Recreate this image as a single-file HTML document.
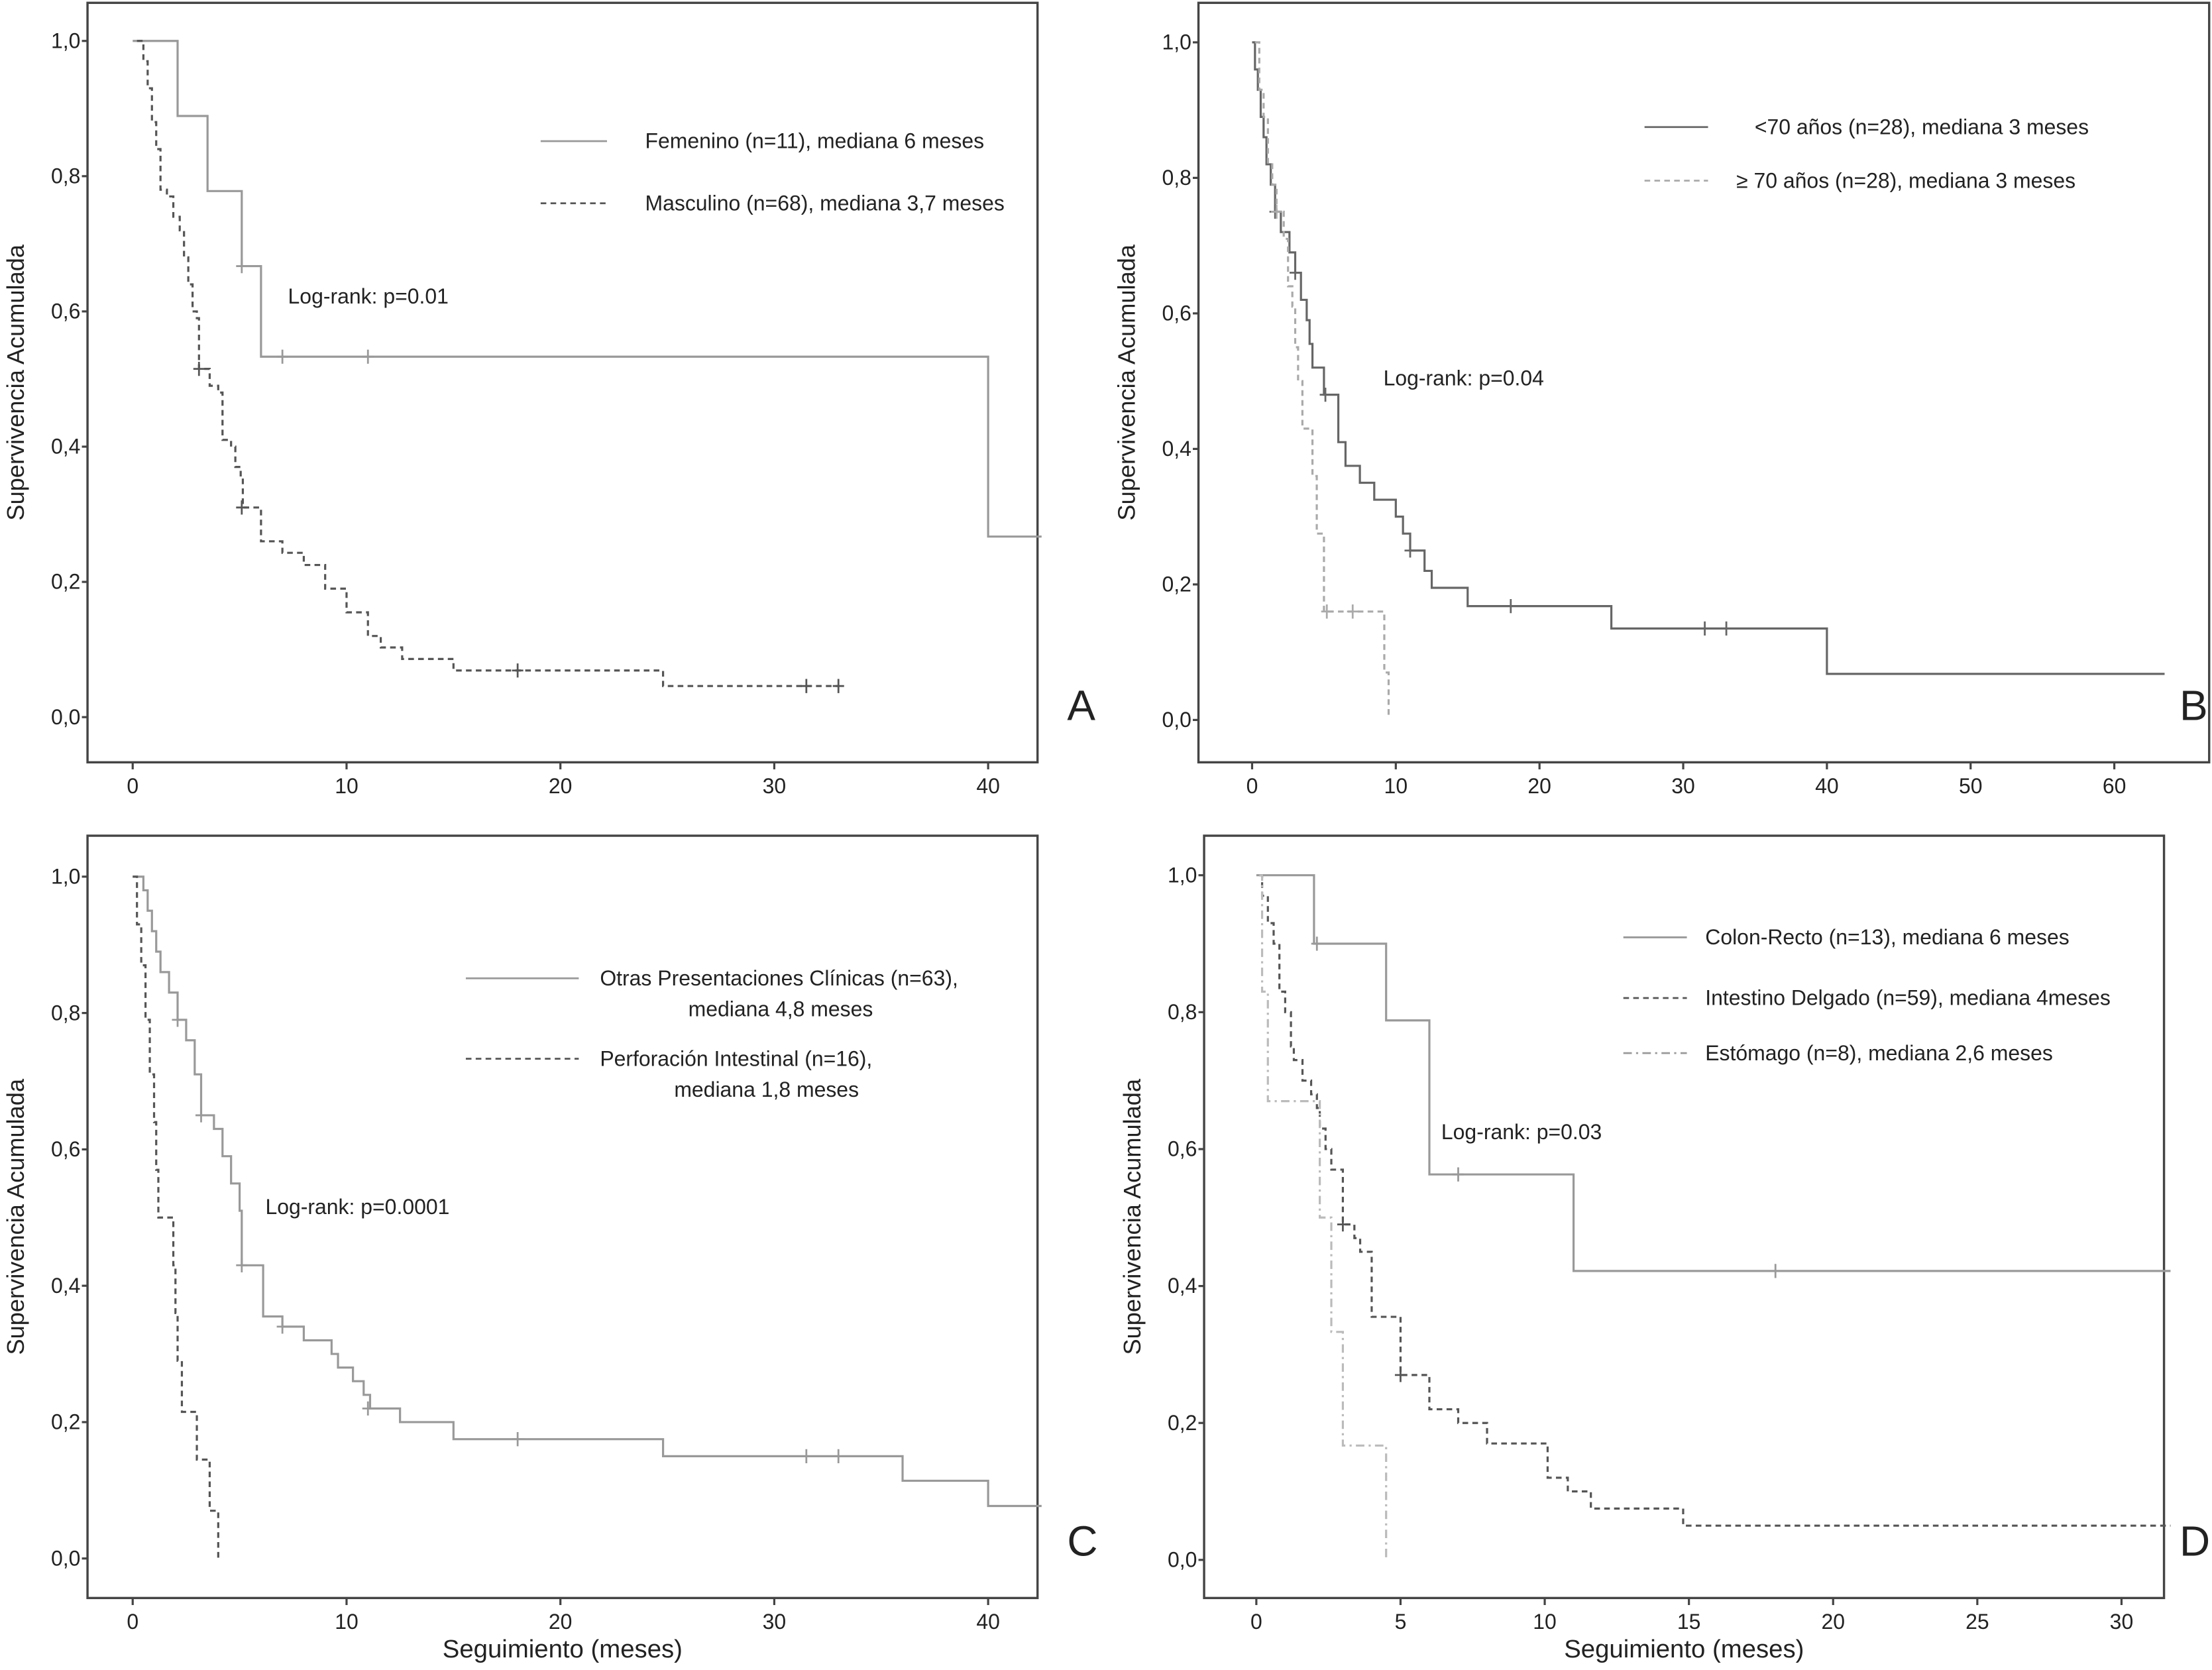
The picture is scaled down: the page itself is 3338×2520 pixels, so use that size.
<!DOCTYPE html>
<html><head><meta charset="utf-8"><style>
html,body{margin:0;padding:0;background:#fff}
svg{display:block}
text{font-family:"Liberation Sans",sans-serif;fill:#222}
</style></head><body>
<svg id="fig" width="3338" height="2520" viewBox="0 0 1567 1183" preserveAspectRatio="none" xmlns="http://www.w3.org/2000/svg"></svg>
<script>
// Panel A
const aFemT=[0,2.1,3.5,5.1,6,40,42.5];
const aFemS=[1,0.889,0.778,0.667,0.533,0.267,0.267];
const aFemC=[[5.1,0.667],[7,0.533],[11,0.533]];
const aMasT=[0.2,0.5,0.7,0.9,1.1,1.3,1.6,1.9,2.2,2.4,2.6,2.8,3.0,3.1,3.6,4.0,4.2,4.6,4.8,5.05,5.15,6,7,8,9,10,11,11.6,12.6,15,24.8,33];
const aMasS=[1,0.97,0.93,0.88,0.84,0.78,0.77,0.74,0.72,0.68,0.64,0.60,0.59,0.515,0.49,0.48,0.41,0.40,0.37,0.355,0.31,0.26,0.243,0.225,0.19,0.155,0.12,0.103,0.086,0.069,0.046,0.046];
const aMasC=[[3.1,0.515],[5.1,0.31],[18,0.069],[31.5,0.046],[33,0.046]];
// Panel B
const bYT=[0,0.2,0.4,0.6,0.8,1,1.3,1.6,2,2.6,3.0,3.4,3.8,4.0,4.2,5,6,6.5,7.5,8.5,10,10.5,11,12,12.5,15,25,40,63.5];
const bYS=[1,0.96,0.93,0.89,0.86,0.82,0.79,0.75,0.72,0.69,0.66,0.62,0.59,0.555,0.52,0.48,0.41,0.375,0.35,0.325,0.30,0.275,0.25,0.22,0.195,0.168,0.135,0.068,0.068];
const bYC=[[1.6,0.75],[3.0,0.66],[5.1,0.48],[11,0.25],[18,0.168],[31.5,0.135],[33,0.135]];
const bOT=[0.2,0.5,0.8,1.1,1.4,1.7,2.2,2.5,2.8,3.0,3.2,3.5,4.2,4.5,5,9.2,9.5];
const bOS=[1,0.93,0.89,0.82,0.79,0.75,0.71,0.64,0.61,0.55,0.50,0.43,0.36,0.275,0.16,0.07,0.005];
const bOC=[[1.7,0.75],[5.2,0.16],[7,0.16]];
// Panel C
const cOT=[0,0.5,0.7,0.9,1.1,1.3,1.7,2.1,2.5,2.9,3.2,3.8,4.2,4.6,5,5.1,6.1,7,8,9.3,9.6,10.3,10.8,11.1,12.5,15,24.8,36,40,42.5];
const cOS=[1,0.98,0.95,0.92,0.89,0.86,0.83,0.79,0.76,0.71,0.65,0.63,0.59,0.55,0.51,0.43,0.355,0.34,0.32,0.30,0.28,0.26,0.24,0.22,0.20,0.175,0.15,0.114,0.077,0.077];
const cOC=[[2.1,0.79],[3.2,0.65],[5.1,0.43],[7,0.34],[11,0.22],[18,0.175],[31.5,0.15],[33,0.15]];
const cPT=[0,0.2,0.4,0.6,0.8,1.0,1.1,1.2,1.9,2.0,2.1,2.3,3.0,3.6,4.0];
const cPS=[1,0.93,0.87,0.79,0.71,0.64,0.57,0.50,0.43,0.36,0.29,0.215,0.145,0.07,0.0];
// Panel D
const dCT=[0,2.0,4.5,6,11,31.7];
const dCS=[1,0.9,0.788,0.563,0.422,0.422];
const dCC=[[2.1,0.9],[7,0.563],[18,0.422]];
const dIT=[0.1,0.2,0.4,0.6,0.8,1.0,1.2,1.3,1.6,1.9,2.1,2.2,2.4,2.6,3.0,3.4,3.6,4.0,5.0,6.0,7.0,8.0,10.1,10.8,11.6,14.8,31.7];
const dIS=[1,0.97,0.93,0.90,0.83,0.80,0.75,0.73,0.70,0.68,0.66,0.63,0.60,0.57,0.49,0.47,0.45,0.355,0.27,0.22,0.20,0.17,0.12,0.10,0.075,0.05,0.05];
const dIC=[[3.0,0.49],[5.0,0.27]];
const dET=[0.1,0.2,0.4,2.2,2.6,3.0,4.5];
const dES=[1,0.83,0.67,0.5,0.333,0.167,0.0];
const yTicks=["0,0","0,2","0,4","0,6","0,8","1,0"];
const xTicksA=[0,10,20,30,40], xTicksB=[0,10,20,30,40,50,60], xTicksD=[0,5,10,15,20,25,30];

const NS="http://www.w3.org/2000/svg", svg=document.getElementById('fig');
function mk(tag,attrs,parent){const e=document.createElementNS(NS,tag);for(const k in attrs)e.setAttribute(k,attrs[k]);(parent||svg).appendChild(e);return e;}
function txt(s,x,y,size,anchor,parent){const t=mk('text',{x:x,y:y,'font-size':size,'text-anchor':anchor||'start'},parent);t.textContent=s;return t;}

function panel(name,P){
  const g=mk('g',{});
  
  
  const sx=v=>P.x0+(v-0)*P.kx, sy=v=>P.y0-(v)*(P.y0-P.y1);
  const fr=mk('rect',{x:P.L,y:P.T,width:P.R-P.L,height:P.B-P.T,fill:'none',stroke:'#444','stroke-width':1.6},g);
  
  
  yTicks.forEach((l,i)=>{const v=i*0.2;mk('line',{x1:P.L-4,x2:P.L,y1:sy(v),y2:sy(v),stroke:'#444','stroke-width':1.5},g);
    const t=txt(l,P.L-5,sy(v)+5,15,'end',g);});
  P.xt.forEach(v=>{mk('line',{x1:sx(v),x2:sx(v),y1:P.B,y2:P.B+5,stroke:'#444','stroke-width':1.5},g);
    const t=txt(String(v),sx(v),P.B+22,15,'middle',g);});
  const yl=txt('Supervivencia Acumulada',0,0,17,'middle',g);
  yl.setAttribute('transform','translate('+(P.L-45)+','+((P.T+P.B)/2)+') rotate(-90)');
  
  
  if(P.xlab){const xl=txt('Seguimiento (meses)',(P.L+P.R)/2,P.B+42,18,'middle',g);}
  const lt=txt(P.letter,P.letterX,P.B-30,30,'start',g);
  
  
  P.series.forEach(s=>{
    let d='M'+sx(s.t[0])+','+sy(s.s[0]);
    for(let i=1;i<s.t.length;i++){d+=' H'+sx(s.t[i])+' V'+sy(s.s[i]);}
    const p=mk('path',{d:d,fill:'none',stroke:s.c,'stroke-width':1.5,'stroke-dasharray':s.dash||'none'},g);
    
    
    (s.cens||[]).forEach(c=>{const cg=mk('path',{d:'M'+(sx(c[0])-4)+','+sy(c[1])+' h8 M'+sx(c[0])+','+(sy(c[1])-5)+' v10',stroke:s.c,'stroke-width':1.3},g);
      });
  });
  P.leg.forEach(l=>{
    const ln=mk('line',{x1:l.x1,x2:l.x2,y1:l.y,y2:l.y,stroke:l.c,'stroke-width':1.3,'stroke-dasharray':l.dash||'none'},g);
    
    l.lines.forEach((s,i)=>{const t=txt(s[0],s[1],l.y+5+i*22,15,s[2]||'start',g);});
  });
  const lr=txt(P.lr[0],P.lr[1],P.lr[2],15,'start',g);
  
  
}
const DASH='4,3', DD='6,3,1.5,3';
panel('panel-a',{L:62,R:735,T:2,B:540,x0:94,kx:15.15,y0:508,y1:29,xt:xTicksA,letter:'A',letterX:756,xlab:false,
  series:[{n:'femenino',t:aFemT,s:aFemS,c:'#999',cens:aFemC},{n:'masculino',t:aMasT,s:aMasS,c:'#555',dash:DASH,cens:aMasC}],
  leg:[{x1:383,x2:430,y:100,c:'#999',lines:[['Femenino (n=11), mediana 6 meses',457]]},
       {x1:383,x2:430,y:144,c:'#555',dash:DASH,lines:[['Masculino (n=68), mediana 3,7 meses',457]]}],
  lr:['Log-rank: p=0.01',204,215]});
panel('panel-b',{L:849,R:1565,T:2,B:540,x0:887,kx:10.18,y0:510,y1:30,xt:xTicksB,letter:'B',letterX:1544,xlab:false,
  series:[{n:'menor-70',t:bYT,s:bYS,c:'#666',cens:bYC},{n:'mayor-70',t:bOT,s:bOS,c:'#aaa',dash:DASH,cens:bOC}],
  leg:[{x1:1165,x2:1210,y:90,c:'#666',lines:[['<70 años (n=28), mediana 3 meses',1243]]},
       {x1:1165,x2:1210,y:128,c:'#aaa',dash:DASH,lines:[['≥ 70 años (n=28), mediana 3 meses',1230]]}],
  lr:['Log-rank: p=0.04',980,273]});
panel('panel-c',{L:62,R:735,T:592,B:1132,x0:94,kx:15.15,y0:1104,y1:621,xt:xTicksA,letter:'C',letterX:756,xlab:true,
  series:[{n:'otras',t:cOT,s:cOS,c:'#999',cens:cOC},{n:'perforacion',t:cPT,s:cPS,c:'#555',dash:DASH}],
  leg:[{x1:330,x2:410,y:693,c:'#999',lines:[['Otras Presentaciones Clínicas (n=63),',425],['mediana 4,8 meses',553,'middle']]},
       {x1:330,x2:410,y:750,c:'#555',dash:DASH,lines:[['Perforación Intestinal (n=16),',425],['mediana 1,8 meses',543,'middle']]}],
  lr:['Log-rank: p=0.0001',188,860]});
panel('panel-d',{L:853,R:1533,T:592,B:1132,x0:890,kx:20.43,y0:1105,y1:620,xt:xTicksD,letter:'D',letterX:1544,xlab:true,
  series:[{n:'colon-recto',t:dCT,s:dCS,c:'#999',cens:dCC},{n:'intestino-delgado',t:dIT,s:dIS,c:'#555',dash:DASH,cens:dIC},{n:'estomago',t:dET,s:dES,c:'#bbb',dash:DD}],
  leg:[{x1:1150,x2:1195,y:664,c:'#999',lines:[['Colon-Recto (n=13), mediana 6 meses',1208]]},
       {x1:1150,x2:1195,y:707,c:'#555',dash:DASH,lines:[['Intestino Delgado (n=59), mediana 4meses',1208]]},
       {x1:1150,x2:1195,y:746,c:'#999',dash:DD,lines:[['Estómago (n=8), mediana 2,6 meses',1208]]}],
  lr:['Log-rank: p=0.03',1021,807]});
</script>
</body></html>
